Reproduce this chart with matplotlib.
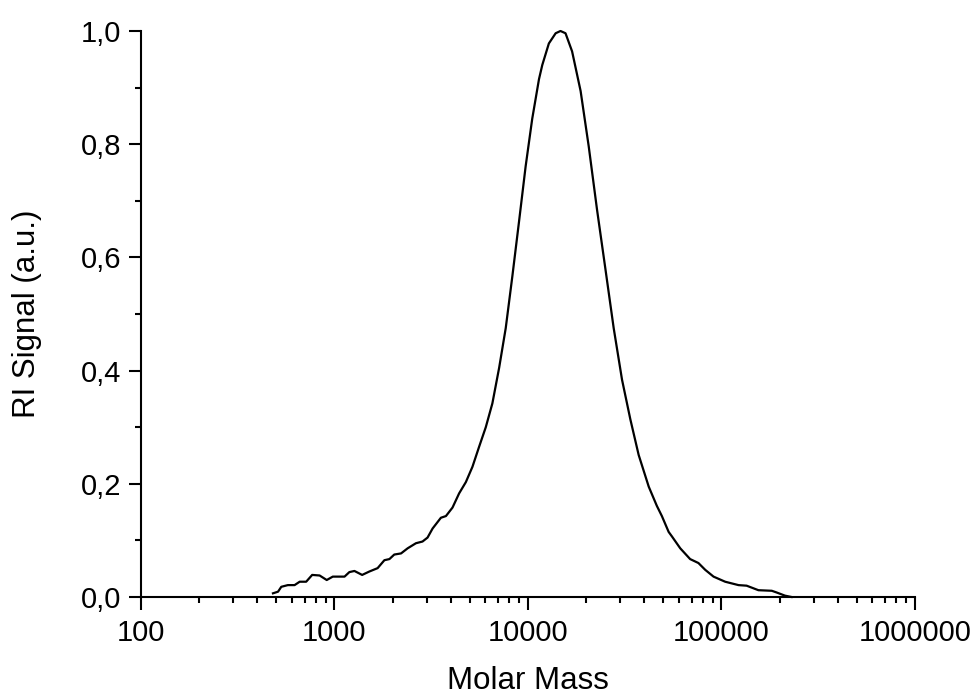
# RI signal vs molar mass (GPC trace)

import matplotlib
matplotlib.use('Agg')
import matplotlib.pyplot as plt
from matplotlib.ticker import FuncFormatter, LogLocator, MultipleLocator, NullFormatter

plt.rcParams['font.family'] = ['Liberation Sans', 'DejaVu Sans']

molar_mass = [481, 511, 531, 574, 622, 661, 714, 767, 838, 912, 980, 1127, 1194, 1268,
              1390, 1514, 1671, 1811, 1923, 2037, 2208, 2388, 2636, 2851, 3027, 3214,
              3548, 3767, 4074, 4406, 4775, 5164, 5585, 6053, 6546, 7096, 7674, 8299,
              8995, 9727, 10520, 11402, 11858, 12823, 13900, 14723, 15631, 16904, 18707,
              20606, 22751, 25119, 27733, 30620, 33806, 37325, 42073, 46345, 49204,
              53333, 55463, 61235, 68865, 76033, 82414, 90991, 104472, 122462, 134896,
              155239, 181970, 192752, 212814, 230144]
ri_signal = [0.0065, 0.0094, 0.018, 0.021, 0.021, 0.027, 0.027, 0.039, 0.038, 0.030,
             0.036, 0.036, 0.044, 0.046, 0.039, 0.045, 0.051, 0.065, 0.067, 0.075,
             0.077, 0.086, 0.095, 0.098, 0.105, 0.121, 0.140, 0.143, 0.158, 0.183,
             0.203, 0.230, 0.265, 0.300, 0.342, 0.405, 0.475, 0.566, 0.664, 0.761,
             0.845, 0.915, 0.940, 0.978, 0.996, 1.0, 0.996, 0.964, 0.894, 0.796,
             0.684, 0.580, 0.475, 0.384, 0.314, 0.251, 0.195, 0.161, 0.143, 0.115,
             0.107, 0.086, 0.067, 0.060, 0.048, 0.036, 0.027, 0.021, 0.020, 0.012,
             0.011, 0.008, 0.0024, 0.0]

fig = plt.figure(figsize=(9.79, 6.98), dpi=100)
ax = fig.add_axes([0.144, 0.1447, 0.7906, 0.8109])

ax.plot(molar_mass, ri_signal, color='black', linewidth=1.6, clip_on=False,
        solid_joinstyle='round')

ax.set_xscale('log')
ax.set_xlim(100, 1000000)
ax.set_ylim(0, 1.0)

ax.spines['top'].set_visible(False)
ax.spines['right'].set_visible(False)
for side in ['left', 'bottom']:
    ax.spines[side].set_linewidth(1.5)

ax.xaxis.set_major_locator(LogLocator(base=10, numticks=10))
ax.xaxis.set_minor_locator(LogLocator(base=10, subs=range(2, 10), numticks=50))
ax.xaxis.set_major_formatter(FuncFormatter(lambda v, p: f'{int(round(v))}'))
ax.xaxis.set_minor_formatter(NullFormatter())

ax.yaxis.set_major_locator(MultipleLocator(0.2))
ax.yaxis.set_minor_locator(MultipleLocator(0.1))
ax.yaxis.set_major_formatter(FuncFormatter(lambda v, p: f'{v:.1f}'.replace('.', ',')))

ax.tick_params(which='major', direction='out', length=9, width=1.5, labelsize=21, pad=5)
ax.tick_params(axis='x', which='major', pad=7)
ax.tick_params(which='minor', direction='out', length=4.5, width=1.5)

ax.set_xlabel('Molar Mass', fontsize=22.5)
ax.set_ylabel('RI Signal (a.u.)', fontsize=22.5)
ax.xaxis.set_label_coords(0.5, -0.122)
ax.yaxis.set_label_coords(-0.128, 0.5)

fig.savefig('out.png', dpi=100)
